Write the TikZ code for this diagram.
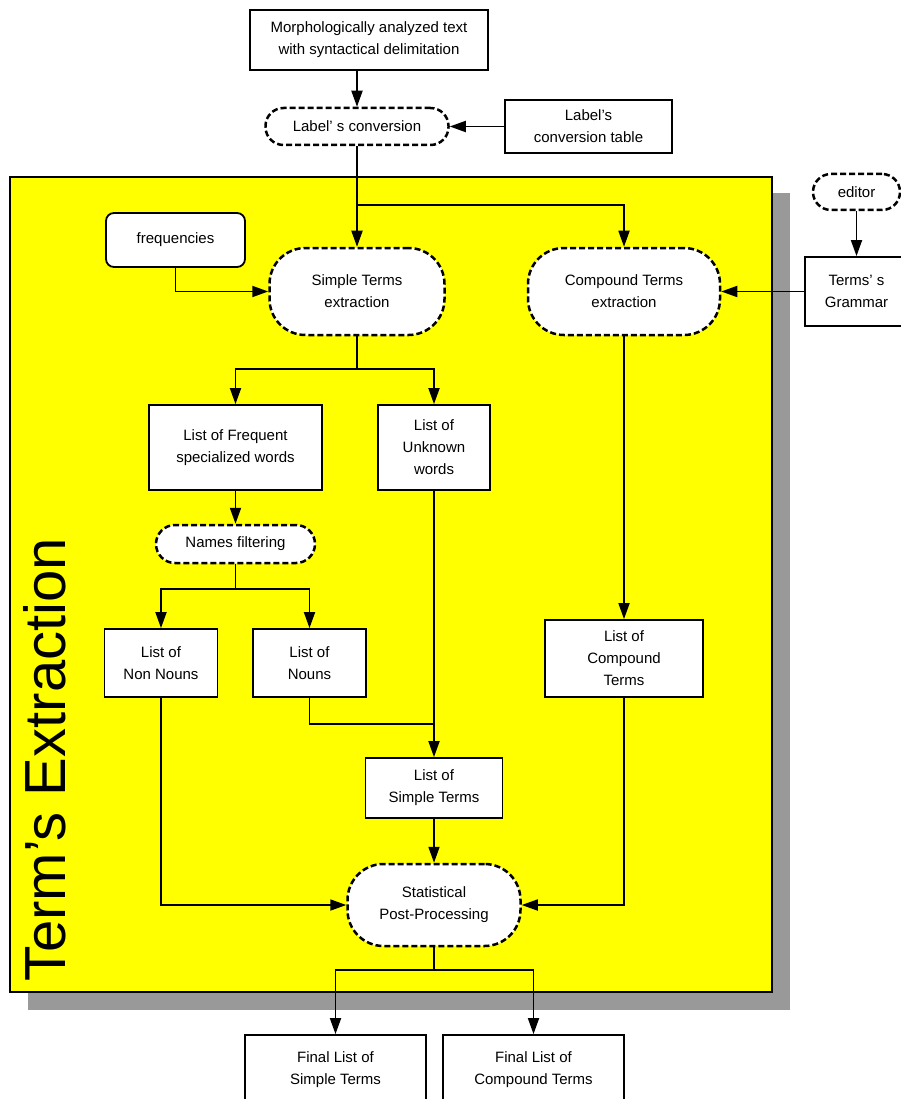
\documentclass[tikz,border=0pt]{standalone}
\usepackage{fontspec}
\setmainfont{Liberation Sans}
\usepackage{tikz}
\usetikzlibrary{arrows.meta, positioning}
\definecolor{areayellow}{RGB}{255,255,0}
\definecolor{shadowgray}{RGB}{153,153,153}

\begin{document}
\begin{tikzpicture}[x=1pt, y=-1pt,
    txtfont/.style={font=\fontsize{15}{22}\selectfont},
    listbox/.style={txtfont, draw=black, fill=white, line width=1.8pt, align=center, inner sep=0pt},
    procpill/.style={txtfont, draw=black, fill=white, line width=2.5pt, dash pattern=on 6pt off 3pt, align=center, inner sep=0pt},
    procbig/.style={procpill, rounded corners=36pt},
    arr/.style={-{Triangle[length=16pt, width=11pt]}, line width=1.8pt},
    conn/.style={line width=1.8pt}
]
\clip (0,0) rectangle (901,1099);
\fill[shadowgray] (28,193) rectangle (790,1010);
\draw[line width=1.5pt, fill=areayellow] (10,177) rectangle (772,992);
\node[rotate=90, anchor=base, font=\fontsize{58}{60}\selectfont] (title) at (65,760) {Term's Extraction};

\node[listbox, minimum width=238pt, minimum height=60pt] (input) at (369,40) {Morphologically analyzed text\\with syntactical delimitation};
\node[procpill, rounded corners=18pt, minimum width=183pt, minimum height=37pt] (conv) at (357,126.5) {Label' s conversion};
\node[listbox, minimum width=167pt, minimum height=53pt] (table) at (588.5,126.5) {Label's\\conversion table};
\node[procpill, rounded corners=18pt, minimum width=87pt, minimum height=36pt] (editor) at (856.5,192) {editor};
\node[listbox, minimum width=103pt, minimum height=69pt] (grammar) at (856.5,291.5) {Terms' s\\Grammar};

\node[listbox, rounded corners=8pt, minimum width=139pt, minimum height=54pt] (freq) at (175.5,240) {frequencies};
\node[procbig, minimum width=175pt, minimum height=87pt] (simple) at (357,291.5) {Simple Terms\\extraction};
\node[procbig, minimum width=192pt, minimum height=87pt] (compound) at (624,291.5) {Compound Terms\\extraction};

\node[listbox, minimum width=173pt, minimum height=85pt] (lfreq) at (235.5,447.5) {List of Frequent\\specialized words};
\node[listbox, minimum width=112pt, minimum height=85pt] (lunk) at (434,447.5) {List of\\Unknown\\words};
\node[procpill, rounded corners=19pt, minimum width=159pt, minimum height=38pt] (names) at (235.5,544) {Names filtering};
\node[listbox, minimum width=113pt, minimum height=68pt] (nonnouns) at (161,663) {List of\\Non Nouns};
\node[listbox, minimum width=113pt, minimum height=68pt] (nouns) at (309.5,663) {List of\\Nouns};
\node[listbox, minimum width=137pt, minimum height=60pt] (lsimple) at (434,788) {List of\\Simple Terms};
\node[listbox, minimum width=158pt, minimum height=77pt] (lcomp) at (624,658.5) {List of\\Compound\\Terms};
\node[procbig, minimum width=173pt, minimum height=82pt] (stat) at (434,905) {Statistical\\Post-Processing};

\node[listbox, minimum width=181pt, minimum height=70pt] (fsimple) at (335.5,1070) {Final List of\\Simple Terms};
\node[listbox, minimum width=181pt, minimum height=70pt] (fcomp) at (533.5,1070) {Final List of\\Compound Terms};

\coordinate (split1) at (357,205);
\coordinate (split2) at (357,369);
\coordinate (split3) at (235.5,589);
\coordinate (join1) at (434,724);
\coordinate (split4) at (434,970);

\draw[arr] (input.south -| conv.north) -- (conv.north);
\draw[arr] (table) -- (conv);
\draw[arr] (conv) -- (simple);
\draw[arr] (split1) -| (compound.north);
\draw[arr] (editor) -- (grammar);
\draw[arr] (grammar) -- (compound);
\draw[arr] (freq.south) |- (simple.west);
\draw[conn] (simple.south) -- (split2);
\draw[arr] (split2) -| (lfreq.north);
\draw[arr] (split2) -| (lunk.north);
\draw[arr] (lfreq) -- (names);
\draw[conn] (names.south) -- (split3);
\draw[arr] (split3) -| (nonnouns.north);
\draw[arr] (split3) -| (nouns.north);
\draw[arr] (lunk) -- (lsimple);
\draw[conn] (nouns.south) |- (join1);
\draw[arr] (compound) -- (lcomp);
\draw[arr] (lsimple) -- (stat);
\draw[arr] (nonnouns.south) |- (stat.west);
\draw[arr] (lcomp.south) |- (stat.east);
\draw[conn] (stat.south) -- (split4);
\draw[arr] (split4) -| (fsimple.north);
\draw[arr] (split4) -| (fcomp.north);
\end{tikzpicture}
\end{document}
